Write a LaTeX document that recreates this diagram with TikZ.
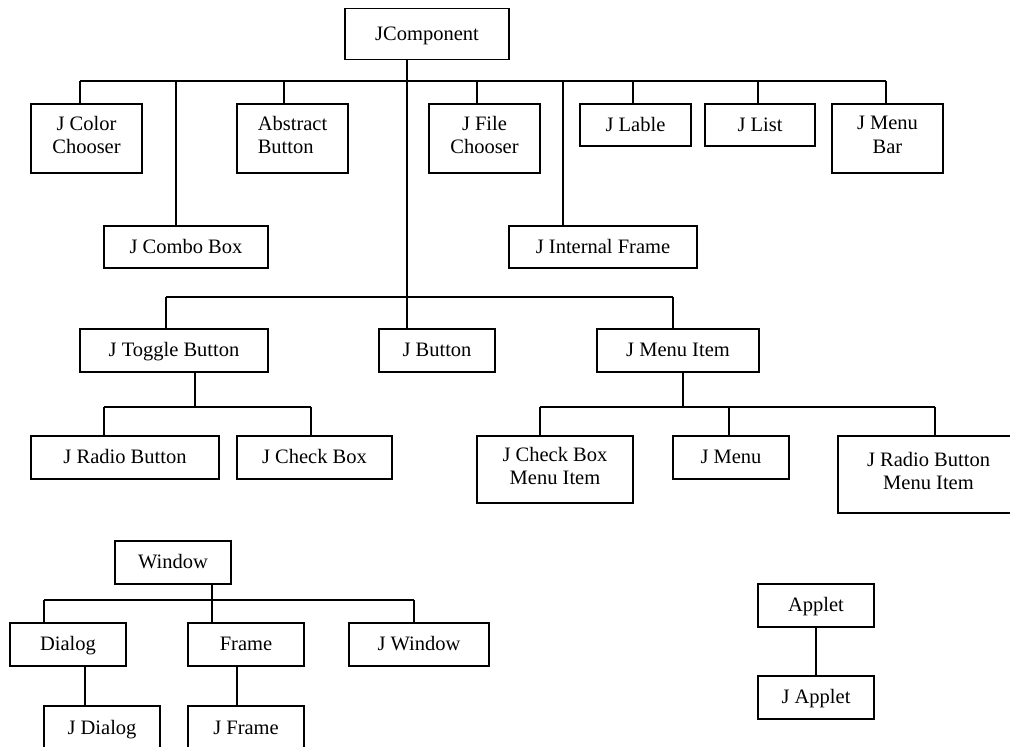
\documentclass[tikz,border=0pt]{standalone}
\usepackage{fontspec}
\setmainfont{Liberation Serif}
\begin{document}
\begin{tikzpicture}[x=1pt,y=-1pt,
  box/.style={draw, line width=1.2pt, inner sep=0pt, align=center,
    font=\fontsize{20.5}{23.5}\selectfont,
    execute at begin node={\rule{0pt}{19pt}}, execute at end node={\rule[-7pt]{0pt}{7pt}}},
  conn/.style={draw, line width=1.2pt}]
\useasboundingbox (0,0) rectangle (1010,747);
% ---- JComponent tree ----
\node[box, minimum width=164, minimum height=51] (jc) at (427,34) {JComponent};
\node[box, minimum width=111, minimum height=69] (jcc) at (86.5,138.5) {J Color\\Chooser};
\node[box, minimum width=164, minimum height=42] (jcb) at (186,247) {J Combo Box};
\node[box, minimum width=111, minimum height=69, align=left] (ab) at (292.5,138.5) {Abstract\\Button};
\node[box, minimum width=111, minimum height=69] (jfc) at (484.5,138.5) {J File\\Chooser};
\node[box, minimum width=188, minimum height=42] (jif) at (603,247) {J Internal Frame};
\node[box, minimum width=111, minimum height=42] (jl) at (635.5,125) {J Lable};
\node[box, minimum width=110, minimum height=42] (jli) at (760,125) {J List};
\node[box, minimum width=111, minimum height=69] (jmb) at (887.5,138.5) {J Menu\\Bar};
\node[box, minimum width=188, minimum height=43] (jtb) at (174,350.5) {J Toggle Button};
\node[box, minimum width=116, minimum height=43] (jb) at (437,350.5) {J Button};
\node[box, minimum width=162, minimum height=43] (jmi) at (678,350.5) {J Menu Item};
\node[box, minimum width=188, minimum height=43] (jrb) at (125,457.5) {J Radio Button};
\node[box, minimum width=155, minimum height=43] (jchk) at (314.5,457.5) {J Check Box};
\node[box, minimum width=156, minimum height=67] (jcbmi) at (555,469.5) {J Check Box\\Menu Item};
\node[box, minimum width=116, minimum height=43] (jm) at (731,457.5) {J Menu};
\node[box, minimum width=181, minimum height=77] (jrbmi) at (928.5,474.5) {J Radio Button\\Menu Item};
% ---- Window tree ----
\node[box, minimum width=116, minimum height=43] (win) at (173,562.5) {Window};
\node[box, minimum width=116, minimum height=43] (dlg) at (68,644.5) {Dialog};
\node[box, minimum width=116, minimum height=43] (frm) at (246,644.5) {Frame};
\node[box, minimum width=140, minimum height=43] (jw) at (419,644.5) {J Window};
\node[box, minimum width=116, minimum height=45] (jd) at (102,728.5) {J Dialog};
\node[box, minimum width=116, minimum height=45] (jf) at (246,728.5) {J Frame};
% ---- Applet ----
\node[box, minimum width=116, minimum height=43] (app) at (816,605.5) {Applet};
\node[box, minimum width=116, minimum height=43] (japp) at (816,697.5) {J Applet};
% ---- junction coordinates ----
\coordinate (a80) at (80,81);
\coordinate (a176) at (176,81);
\coordinate (a284) at (284,81);
\coordinate (a407) at (407,81);
\coordinate (a477) at (477,81);
\coordinate (a563) at (563,81);
\coordinate (a633) at (633,81);
\coordinate (a758) at (758,81);
\coordinate (a886) at (886,81);
\coordinate (b166) at (166,297);
\coordinate (b673) at (673,297);
\coordinate (c195) at (195,407);
\coordinate (c104) at (104,407);
\coordinate (c311) at (311,407);
\coordinate (d683) at (683,407);
\coordinate (d540) at (540,407);
\coordinate (d729) at (729,407);
\coordinate (d935) at (935,407);
\coordinate (e212) at (212,600);
\coordinate (e44) at (44,600);
\coordinate (e414) at (414,600);
\coordinate (f85) at (85,0);
\coordinate (f237) at (237,0);
\coordinate (g816) at (816,0);
% ---- connectors ----
\draw[conn] (a80) -- (a886);
\draw[conn] (jc.south -| a407) -- (jb.north -| a407);
\draw[conn] (a80) -- (jcc.north -| a80);
\draw[conn] (a176) -- (jcb.north -| a176);
\draw[conn] (a284) -- (ab.north -| a284);
\draw[conn] (a477) -- (jfc.north -| a477);
\draw[conn] (a563) -- (jif.north -| a563);
\draw[conn] (a633) -- (jl.north -| a633);
\draw[conn] (a758) -- (jli.north -| a758);
\draw[conn] (a886) -- (jmb.north -| a886);
\draw[conn] (b166) -- (b673);
\draw[conn] (b166) -- (jtb.north -| b166);
\draw[conn] (b673) -- (jmi.north -| b673);
\draw[conn] (jtb.south -| c195) -- (c195);
\draw[conn] (c104) -- (c311);
\draw[conn] (c104) -- (jrb.north -| c104);
\draw[conn] (c311) -- (jchk.north -| c311);
\draw[conn] (jmi.south -| d683) -- (d683);
\draw[conn] (d540) -- (d935);
\draw[conn] (d540) -- (jcbmi.north -| d540);
\draw[conn] (d729) -- (jm.north -| d729);
\draw[conn] (d935) -- (jrbmi.north -| d935);
\draw[conn] (win.south -| e212) -- (frm.north -| e212);
\draw[conn] (e44) -- (e414);
\draw[conn] (e44) -- (dlg.north -| e44);
\draw[conn] (e414) -- (jw.north -| e414);
\draw[conn] (dlg.south -| f85) -- (jd.north -| f85);
\draw[conn] (frm.south -| f237) -- (jf.north -| f237);
\draw[conn] (app.south -| g816) -- (japp.north -| g816);
\end{tikzpicture}
\end{document}
